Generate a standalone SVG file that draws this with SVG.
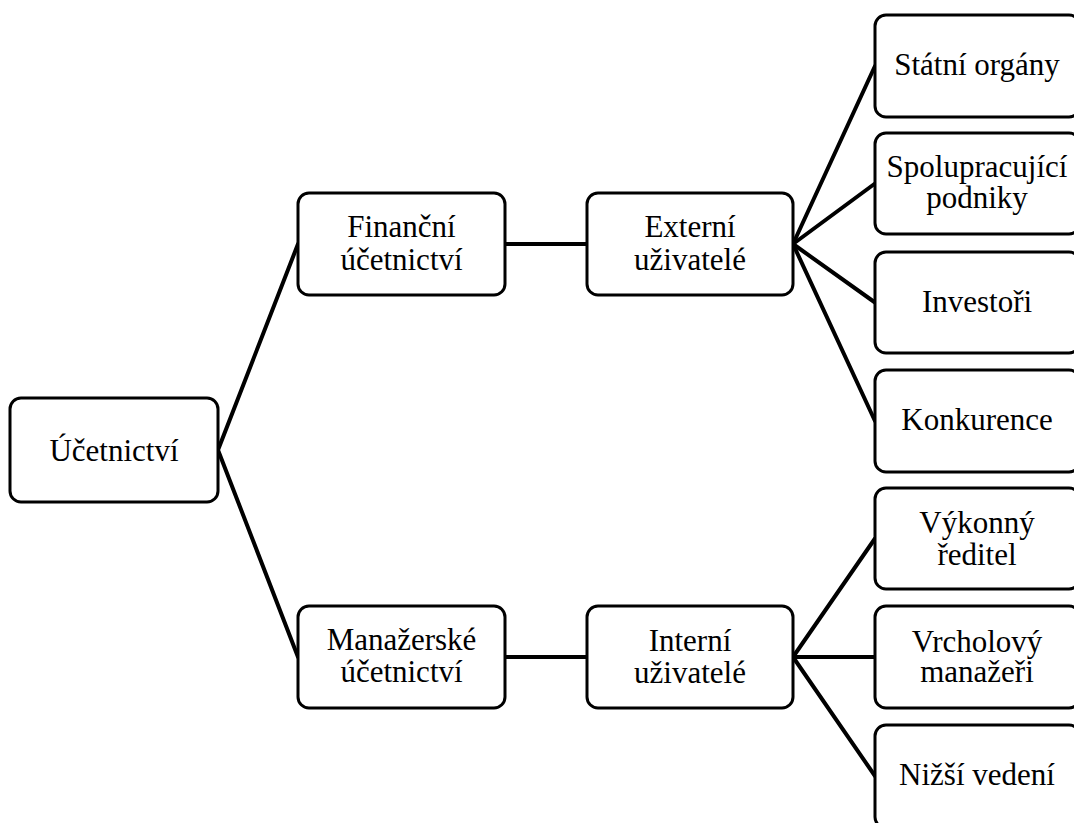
<svg xmlns="http://www.w3.org/2000/svg" width="1074" height="823" viewBox="0 0 1074 823">
  <style>
    .box { fill: #ffffff; stroke: #000000; stroke-width: 3; }
    .lbl { font-family: "Liberation Serif", "DejaVu Serif", serif; font-size: 31px; fill: #000000; text-anchor: middle; }
    .conn line { stroke: #000000; stroke-width: 4; stroke-linecap: round; }
  </style>
  <rect width="1074" height="823" fill="#ffffff"/>
  <g id="connectors" class="conn">
    <line x1="218" y1="450" x2="298" y2="244"/>
    <line x1="218" y1="450" x2="298" y2="657"/>
    <line x1="505" y1="244" x2="587" y2="244"/>
    <line x1="505" y1="657" x2="587" y2="657"/>
    <line x1="793" y1="244" x2="875" y2="66"/>
    <line x1="793" y1="244" x2="875" y2="183.5"/>
    <line x1="793" y1="244" x2="875" y2="302.5"/>
    <line x1="793" y1="244" x2="875" y2="421"/>
    <line x1="793" y1="657" x2="875" y2="538.5"/>
    <line x1="793" y1="657" x2="875" y2="657"/>
    <line x1="793" y1="657" x2="875" y2="776"/>
  </g>
  <g id="ucetnictvi">
    <rect class="box" x="10" y="398" width="208" height="104" rx="11"/>
    <text class="lbl" x="114" y="461">Účetnictví</text>
  </g>
  <g id="financni">
    <rect class="box" x="298" y="193" width="207" height="102" rx="11"/>
    <text class="lbl" x="401.5" y="237">Finanční</text>
    <text class="lbl" x="401.5" y="270">účetnictví</text>
  </g>
  <g id="manazerske">
    <rect class="box" x="298" y="606" width="207" height="102" rx="11"/>
    <text class="lbl" x="401.5" y="650">Manažerské</text>
    <text class="lbl" x="401.5" y="682">účetnictví</text>
  </g>
  <g id="externi">
    <rect class="box" x="587" y="193" width="206" height="102" rx="11"/>
    <text class="lbl" x="690" y="237">Externí</text>
    <text class="lbl" x="690" y="270">uživatelé</text>
  </g>
  <g id="interni">
    <rect class="box" x="587" y="606" width="206" height="102" rx="11"/>
    <text class="lbl" x="690" y="651">Interní</text>
    <text class="lbl" x="690" y="683">uživatelé</text>
  </g>
  <g id="statni">
    <rect class="box" x="875" y="15" width="205" height="102" rx="11"/>
    <text class="lbl" x="977" y="75">Státní orgány</text>
  </g>
  <g id="spolupracujici">
    <rect class="box" x="875" y="133" width="205" height="101" rx="11"/>
    <text class="lbl" x="977" y="177">Spolupracující</text>
    <text class="lbl" x="977" y="208">podniky</text>
  </g>
  <g id="investori">
    <rect class="box" x="875" y="252" width="205" height="101" rx="11"/>
    <text class="lbl" x="977" y="312">Investoři</text>
  </g>
  <g id="konkurence">
    <rect class="box" x="875" y="370" width="205" height="102" rx="11"/>
    <text class="lbl" x="977" y="430">Konkurence</text>
  </g>
  <g id="vykonny">
    <rect class="box" x="875" y="488" width="205" height="101" rx="11"/>
    <text class="lbl" x="977" y="533">Výkonný</text>
    <text class="lbl" x="977" y="565">ředitel</text>
  </g>
  <g id="vrcholovy">
    <rect class="box" x="875" y="606" width="205" height="102" rx="11"/>
    <text class="lbl" x="977" y="652">Vrcholový</text>
    <text class="lbl" x="977" y="682">manažeři</text>
  </g>
  <g id="nizsi">
    <rect class="box" x="875" y="725" width="205" height="103" rx="11"/>
    <text class="lbl" x="977" y="785">Nižší vedení</text>
  </g>
</svg>
